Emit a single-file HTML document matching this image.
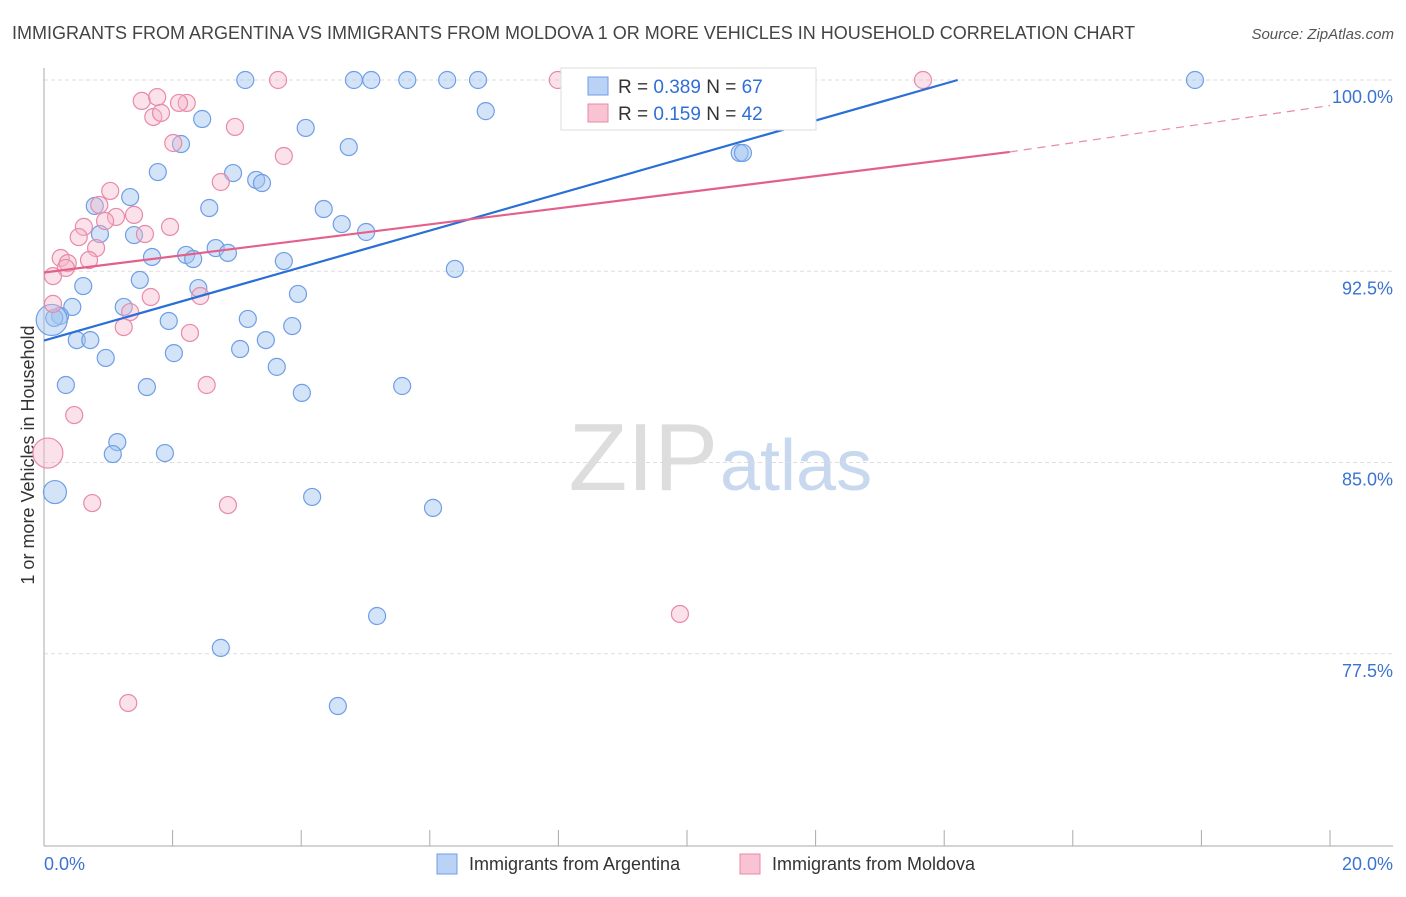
<!DOCTYPE html>
<html><head><meta charset="utf-8"><style>
body{margin:0;background:#fff;font-family:"Liberation Sans",sans-serif}
svg text{font-family:"Liberation Sans",sans-serif}
</style></head><body>
<svg id="chart" width="1406" height="892" xmlns="http://www.w3.org/2000/svg">
<text x="12" y="39" font-size="18" fill="#444">IMMIGRANTS FROM ARGENTINA VS IMMIGRANTS FROM MOLDOVA 1 OR MORE VEHICLES IN HOUSEHOLD CORRELATION CHART</text>
<text x="1394" y="39" font-size="15" fill="#555" font-style="italic" text-anchor="end">Source: ZipAtlas.com</text>
<text transform="translate(34,455) rotate(-90)" font-size="18" fill="#333" text-anchor="middle">1 or more Vehicles in Household</text>
<text x="718" y="490" font-size="96" fill="#ddd" text-anchor="end" font-family="Liberation Serif">ZIP</text>
<text x="720" y="490" font-size="72" fill="#c8d8ee">atlas</text>
<g id="grid"></g><g id="axes"></g><g id="pts"></g><g id="lines"></g>
<g>
<rect x="561" y="68" width="255" height="62" fill="#fff" stroke="#ddd"/>
<rect x="588" y="77" width="20" height="18" fill="#b9d2f5" stroke="#6f9ee6"/>
<text x="618" y="93" font-size="19" fill="#333">R = <tspan fill="#2f6fd6">0.389</tspan>   N = <tspan fill="#2f6fd6">67</tspan></text>
<rect x="588" y="104" width="20" height="18" fill="#f8c4d4" stroke="#e88aa8"/>
<text x="618" y="120" font-size="19" fill="#333">R =  <tspan fill="#2f6fd6">0.159</tspan>   N = <tspan fill="#2f6fd6">42</tspan></text>
</g>
<g><rect x="437" y="854" width="20" height="20" fill="#b9d2f5" stroke="#6f9ee6"/><text x="469" y="870" font-size="18" fill="#333">Immigrants from Argentina</text></g>
<g><rect x="740" y="854" width="20" height="20" fill="#f8c4d4" stroke="#e88aa8"/><text x="772" y="870" font-size="18" fill="#333">Immigrants from Moldova</text></g>
</svg>
<script>
const blueX=[3.13,4.82,5.09,5.65,6.27,6.75,8.18,9.58,17.90,6.87,2.46,4.07,2.13,4.74,10.82,10.87,1.77,2.94,3.30,3.39,0.79,1.34,2.57,4.35,4.63,5.01,0.87,1.40,2.67,2.86,2.21,2.32,1.68,3.73,6.39,1.49,0.61,2.40,3.95,1.24,0.44,0.25,0.16,1.94,3.17,3.86,0.51,0.72,3.45,3.05,2.02,0.96,3.62,0.34,1.60,5.57,4.01,1.14,1.07,1.88,0.17,4.17,6.05,5.18,2.75,4.57,0.12];
const blueY=[100,100,100,100,100,100,100,100,100,98.78,98.47,98.12,97.49,97.37,97.14,97.14,96.39,96.35,96.08,95.96,95.06,95.41,94.98,94.94,94.35,94.04,93.96,93.92,93.41,93.22,93.14,92.98,93.06,92.90,92.59,92.16,91.92,91.84,91.61,91.10,91.10,90.75,90.67,90.55,90.63,90.35,89.80,89.80,89.80,89.45,89.29,89.10,88.75,88.04,87.96,88.00,87.73,85.80,85.33,85.37,83.84,83.65,83.22,78.98,77.73,75.45,90.59];
const blueR=[8,8,8,8,8,8,8,8,8,8,8,8,8,8,8,8,8,8,8,8,8,8,8,8,8,8,8,8,8,8,8,8,8,8,8,8,8,8,8,8,8,8,8,8,8,8,8,8,8,8,8,8,8,8,8,8,8,8,8,8,11,8,8,8,8,8,15];
const pinkX=[3.64,7.99,13.67,1.52,1.76,2.22,2.10,1.70,1.82,2.01,2.97,3.73,2.75,1.03,0.86,1.12,1.40,0.95,0.62,1.57,1.96,0.54,0.81,0.26,0.70,0.37,0.34,0.14,0.14,1.66,1.34,2.43,1.24,2.27,2.53,0.47,0.75,2.86,9.89,1.31,0.06];
const pinkY=[100,100,100,99.18,99.33,99.10,99.10,98.55,98.71,97.53,98.16,97.02,96.00,95.65,95.10,94.63,94.71,94.47,94.24,93.96,94.24,93.84,93.41,93.02,92.94,92.82,92.63,92.31,91.22,91.49,90.90,91.53,90.31,90.08,88.04,86.86,83.41,83.33,79.06,75.57,85.37];
const yTicks=[100,92.5,85,77.5];
const yTickLabels=["100.0%","92.5%","85.0%","77.5%"];
const xTickLabels=["0.0%","20.0%"];
const blueLine=[[0,89.78],[14.21,100]];
const pinkLine=[[0,92.45],[15.02,97.18]];
const pinkDash=[[15.02,97.18],[20,99.0]];
const X=v=>44+v*64.3, Y=v=>80+(100-v)*25.5;
const NS="http://www.w3.org/2000/svg";
function mk(tag,attrs,parent,text){const e=document.createElementNS(NS,tag);for(const k in attrs)e.setAttribute(k,attrs[k]);if(text!==undefined)e.textContent=text;document.getElementById(parent).appendChild(e);return e;}
yTicks.forEach((t,i)=>{
 const g=mk('line',{x1:44,x2:1393,y1:Y(t),y2:Y(t),stroke:'#ddd','stroke-dasharray':'4,3'},'grid');
 
 
 const l=mk('text',{x:1393,y:Y(t)+23,'font-size':18,fill:'#3b73d1','text-anchor':'end'},'grid',yTickLabels[i]);
 
 
});
const ax=mk('line',{x1:44,x2:44,y1:68,y2:846,stroke:'#aaa'},'axes');


const bx=mk('line',{x1:44,x2:1393,y1:846,y2:846,stroke:'#aaa'},'axes');


for(let i=0;i<=10;i++){const t=mk('line',{x1:X(i*2),x2:X(i*2),y1:830,y2:846,stroke:'#aaa'},'axes');
 
 }
[[0,'start'],[20,'end']].forEach((p,i)=>{const l=mk('text',{x:p[0]?1393:44,y:870,'font-size':18,fill:'#3b73d1','text-anchor':p[1]},'axes',xTickLabels[i]);
 
 });
blueX.forEach((x,i)=>{const c=mk('circle',{cx:X(x),cy:Y(blueY[i]),r:blueR[i]+0.5,fill:'rgba(160,195,240,0.45)',stroke:'#6f9ee6','stroke-width':1.2},'pts');
 
 });
pinkX.forEach((x,i)=>{const c=mk('circle',{cx:X(x),cy:Y(pinkY[i]),r:i===pinkX.length-1?15:8.5,fill:'rgba(245,180,200,0.4)',stroke:'#e88aa8','stroke-width':1.2},'pts');
 
 });
const bl=mk('line',{x1:X(blueLine[0][0]),y1:Y(blueLine[0][1]),x2:X(blueLine[1][0]),y2:Y(blueLine[1][1]),stroke:'#2a6fd6','stroke-width':2.2},'lines');


const pl=mk('line',{x1:X(pinkLine[0][0]),y1:Y(pinkLine[0][1]),x2:X(pinkLine[1][0]),y2:Y(pinkLine[1][1]),stroke:'#e4608a','stroke-width':2.2},'lines');


const pd=mk('line',{x1:X(pinkDash[0][0]),y1:Y(pinkDash[0][1]),x2:X(pinkDash[1][0]),y2:Y(pinkDash[1][1]),stroke:'#e88aa8','stroke-width':1.2,'stroke-dasharray':'8,6'},'lines');


</script>
</body></html>
